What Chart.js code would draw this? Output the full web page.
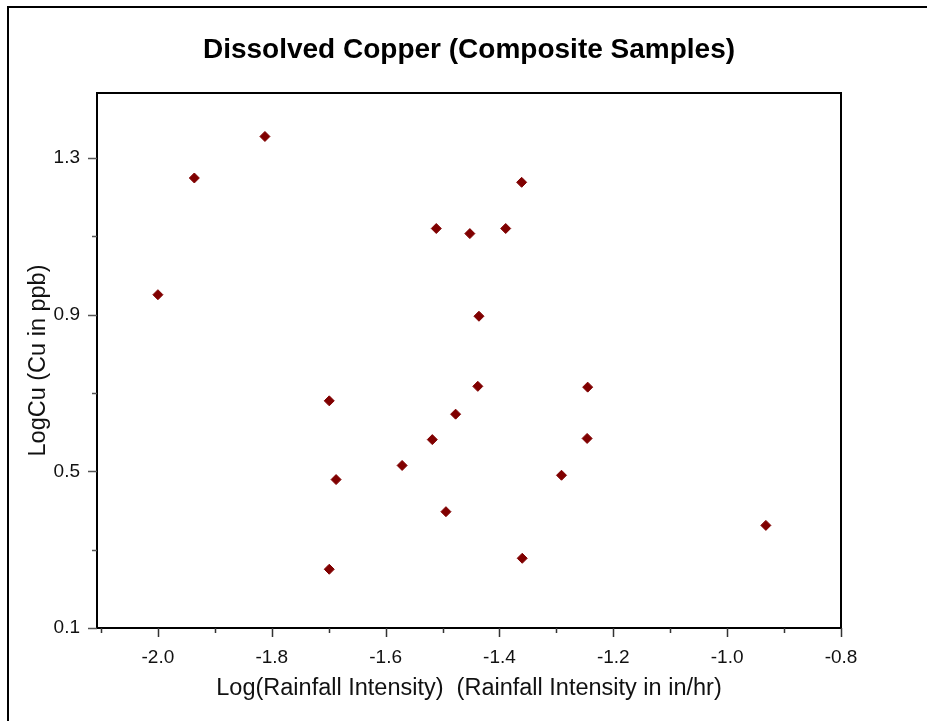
<!DOCTYPE html>
<html>
<head>
<meta charset="utf-8">
<script src="https://cdn.jsdelivr.net/npm/chart.js@4.4.1/dist/chart.umd.min.js"></script>
<style>
  html, body { margin: 0; padding: 0; background: #fff; }
  canvas { display: block; }
</style>
</head>
<body>
<canvas id="cuChart" width="927" height="721"></canvas>
<script>
// data
const rainLog = [-2.000, -1.936, -1.812, -1.699, -1.687, -1.699, -1.571, -1.518, -1.511, -1.452, -1.389,
                 -1.361, -1.436, -1.438, -1.477, -1.494, -1.360, -1.291, -1.246, -1.245, -0.932];
const logCu   = [0.951, 1.249, 1.355, 0.680, 0.479, 0.250, 0.515, 0.581, 1.120, 1.107, 1.120,
                 1.238, 0.896, 0.717, 0.646, 0.397, 0.278, 0.490, 0.584, 0.715, 0.362];

const xTicks = [-2.0, -1.8, -1.6, -1.4, -1.2, -1.0, -0.8];
const xMinor = [-2.1, -1.9, -1.7, -1.5, -1.3, -1.1, -0.9];
const yTicks = [0.1, 0.5, 0.9, 1.3];
const yMinor = [0.3, 0.7, 1.1];

const titleText = "Dissolved Copper (Composite Samples)";
const xTitle = "Log(Rainfall Intensity)  (Rainfall Intensity in in/hr)";
const yTitle = "LogCu (Cu in ppb)";

const FONT = "'Liberation Sans', Arial, sans-serif";

// frame, plot box, title and tick marks
const decor = {
  id: "decor",
  afterDraw(chart) {
    const ctx = chart.ctx;
    const a = chart.chartArea;
    const xs = chart.scales.x, ys = chart.scales.y;
    ctx.save();

    // outer frame (left + top visible)
    ctx.strokeStyle = "#000";
    ctx.lineWidth = 2;
    ctx.beginPath();
    ctx.moveTo(8, 721);
    ctx.lineTo(8, 7);
    ctx.lineTo(927, 7);
    ctx.stroke();

    // plot box
    ctx.lineWidth = 2;
    ctx.strokeRect(a.left, a.top, a.right - a.left, a.bottom - a.top);

    // ticks
    ctx.lineWidth = 1.5;
    ctx.strokeStyle = "#333";
    ctx.beginPath();
    xTicks.forEach(v => {
      const px = Math.round(xs.getPixelForValue(v)) + 0.5;
      ctx.moveTo(px, a.bottom); ctx.lineTo(px, a.bottom + 9);
    });
    xMinor.forEach(v => {
      const px = Math.round(xs.getPixelForValue(v)) + 0.5;
      ctx.moveTo(px, a.bottom); ctx.lineTo(px, a.bottom + 5);
    });
    ctx.stroke();

    ctx.strokeStyle = "#555";
    ctx.beginPath();
    yTicks.forEach(v => {
      const py = Math.round(ys.getPixelForValue(v)) + 0.5;
      ctx.moveTo(a.left, py); ctx.lineTo(a.left - 9, py);
    });
    yMinor.forEach(v => {
      const py = Math.round(ys.getPixelForValue(v)) + 0.5;
      ctx.moveTo(a.left, py); ctx.lineTo(a.left - 5, py);
    });
    ctx.stroke();

    // chart title centered over the plot box
    ctx.fillStyle = "#000";
    ctx.font = "bold 28px " + FONT;
    ctx.textAlign = "center";
    ctx.textBaseline = "middle";
    ctx.fillText(titleText, (a.left + a.right) / 2, 50);
    ctx.restore();
  }
};

const ctx = document.getElementById("cuChart");

new Chart(ctx, {
  type: "scatter",
  data: {
    datasets: [{
      label: "Composite",
      data: rainLog.map((x, i) => ({ x, y: logCu[i] })),
      pointStyle: "rectRot",
      pointRadius: 5,
      pointBorderWidth: 1,
      backgroundColor: "#800000",
      borderColor: "#800000"
    }]
  },
  options: {
    responsive: false,
    animation: false,
    devicePixelRatio: 1,
    layout: { padding: { top: 93, right: 86, left: 0, bottom: 0 } },
    plugins: {
      legend: { display: false },
      tooltip: { enabled: false }
    },
    scales: {
      x: {
        type: "linear",
        min: -2.107,
        max: -0.8,
        afterBuildTicks: s => { s.ticks = xTicks.map(v => ({ value: v })); },
        afterFit: s => { s.height = 93; },
        grid: { display: false, drawTicks: false },
        border: { display: false },
        ticks: {
          padding: 18,
          color: "#111",
          font: { family: FONT, size: 19 },
          maxRotation: 0,
          callback: v => v.toFixed(1)
        },
        title: {
          display: true,
          text: xTitle,
          color: "#111",
          font: { family: FONT, size: 23.5 },
          padding: { top: 0, bottom: 18 }
        }
      },
      y: {
        type: "linear",
        min: 0.1,
        max: 1.466,
        afterBuildTicks: s => { s.ticks = yTicks.map(v => ({ value: v })); },
        afterFit: s => { s.width = 97; },
        grid: { display: false, drawTicks: false },
        border: { display: false },
        ticks: {
          padding: 17,
          color: "#111",
          font: { family: FONT, size: 19 },
          callback: v => v.toFixed(1)
        },
        title: {
          display: true,
          text: yTitle,
          color: "#111",
          font: { family: FONT, size: 23.5 },
          padding: { top: 24, bottom: 0 }
        }
      }
    }
  },
  plugins: [decor]
});
</script>
</body>
</html>
